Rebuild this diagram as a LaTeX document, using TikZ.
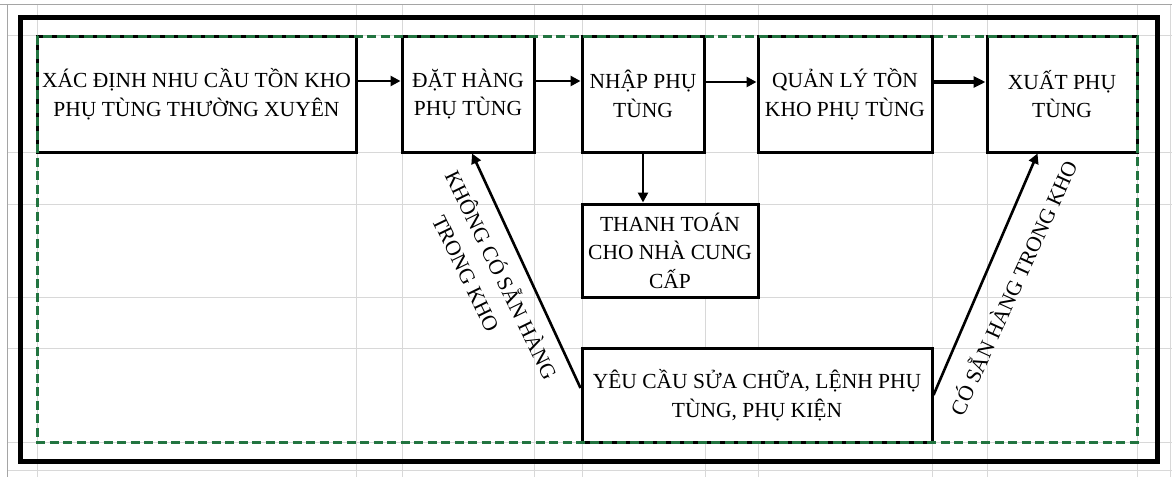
\documentclass[tikz,border=0pt]{standalone}
\usepackage{fontspec}
\setmainfont{Liberation Serif}
\usetikzlibrary{arrows.meta,calc}
\definecolor{gridc}{RGB}{216,216,216}
\definecolor{bordc}{RGB}{165,165,165}
\definecolor{dgreen}{RGB}{34,116,64}
\begin{document}
\begin{tikzpicture}[x=1pt,y=-1pt,
  box/.style={draw=black,line width=3pt,fill=white,inner sep=0pt,align=center,
    font=\fontsize{21.5}{28.5}\selectfont},
  conn/.style={line width=2.6pt,-{Triangle[length=10pt,width=10pt]}},
  thickconn/.style={line width=4pt,-{Triangle[length=12pt,width=11pt]}},
  lbl/.style={inner sep=0pt,align=center,font=\fontsize{21.5}{31}\selectfont},
  gridline/.style={gridc,line width=1pt},
  borderline/.style={bordc,line width=1pt},
  frame/.style={line width=5pt},
  dashframe/.style={dgreen,line width=3pt,dash pattern=on 9pt off 4.5pt},
]
\useasboundingbox (0,0) rectangle (1172,477);
\fill[white] (0,0) rectangle (1172,477);
% spreadsheet grid
\foreach \y in {35,152,204,297,348,442,470} \draw[gridline] (7,\y) -- (1172,\y);
\foreach \x in {37,356,402,534,582,705,758,932,987,1137,1170} \draw[gridline] (\x,4) -- (\x,477);
\draw[borderline] (0,4) -- (1172,4);
\draw[borderline] (7,4) -- (7,477);
% outer frame
\draw[frame] (20,17) rectangle (1157,461);
% boxes
\node[box,minimum width=319pt,minimum height=116pt] (b1) at (196.5,94) {XÁC ĐỊNH NHU CẦU TỒN KHO\\PHỤ TÙNG THƯỜNG XUYÊN};
\node[box,minimum width=132pt,minimum height=116pt] (b2) at (468,94) {ĐẶT HÀNG\\PHỤ TÙNG};
\node[box,minimum width=122pt,minimum height=116pt] (b3) at (643,94) {NHẬP PHỤ\\TÙNG};
\node[box,minimum width=174pt,minimum height=116pt] (b4) at (845,94) {QUẢN LÝ TỒN\\KHO PHỤ TÙNG};
\node[box,minimum width=150pt,minimum height=116pt] (b5) at (1062,94) {XUẤT PHỤ\\TÙNG};
\node[box,minimum width=176pt,minimum height=93pt] (b6) at (670,250.5) {THANH TOÁN\\CHO NHÀ CUNG\\CẤP};
\node[box,minimum width=350pt,minimum height=94pt] (b7) at (757,395) {YÊU CẦU SỬA CHỮA, LỆNH PHỤ\\TÙNG, PHỤ KIỆN};
% connectors
\draw[conn] ([yshift=13pt]b1.east) -- ([yshift=13pt]b2.west);
\draw[conn] ([yshift=13pt]b2.east) -- ([yshift=13pt]b3.west);
\draw[conn] ([yshift=12pt]b3.east) -- ([yshift=12pt]b4.west);
\draw[thickconn] ([yshift=12pt]b4.east) -- ([yshift=12pt]b5.west);
\draw[conn] (b3.south) -- (b3.south |- b6.north);
\draw[conn] ([yshift=7pt]b7.west) -- ($(b2.south west)!0.53!(b2.south east)$);
\draw[conn] (b7.east) -- ($(b5.south west)!0.34!(b5.south east)$);
% labels
\node[lbl,rotate=-64] (l1) at (489,281) {KHÔNG CÓ SẴN HÀNG\\\hspace*{-34pt}TRONG KHO};
\node[lbl,rotate=65.5] (l2) at (1012,287) {CÓ SẴN HÀNG TRONG KHO};
% dashed green frame
\draw[dashframe] (37,36) rectangle (1137,442);
\end{tikzpicture}
\end{document}
